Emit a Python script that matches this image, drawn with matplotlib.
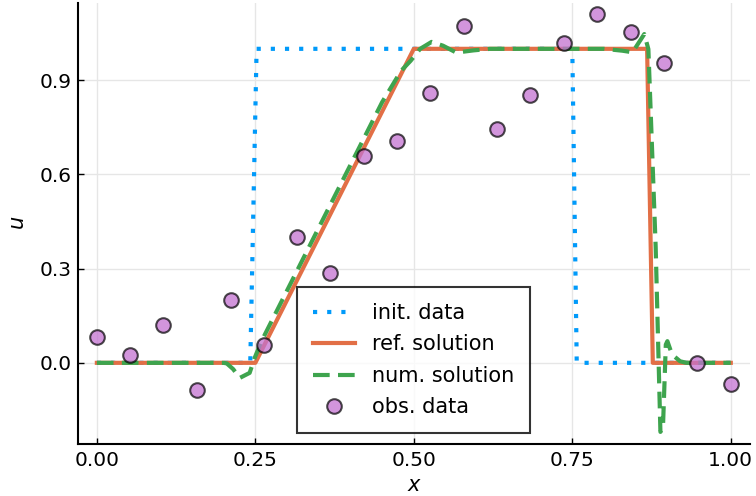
import numpy as np
import matplotlib.pyplot as plt

# initial step (sampled on the grid)
x_init = [0.0, 0.242, 0.252, 0.75, 0.757, 1.0]
u_init = [0.0, 0.0, 1.0, 1.0, 0.0, 0.0]

# reference solution: rarefaction fan + shock
x_ref = [0.0, 0.25, 0.50, 0.868, 0.877, 1.0]
u_ref = [0.0, 0.0, 1.0, 1.0, 0.0, 0.0]

# numerical solution (with oscillations)
x_num = [0.0, 0.20, 0.205, 0.215, 0.2255, 0.241, 0.249, 0.26, 0.30, 0.40, 0.45,
         0.48, 0.495, 0.51, 0.528, 0.546, 0.567, 0.594, 0.62, 0.80, 0.829,
         0.845, 0.8636, 0.870, 0.8815, 0.889, 0.893, 0.8975, 0.900, 0.905,
         0.91, 0.92, 0.93, 1.0]
u_num = [0.0, 0.0, -0.002, -0.02, -0.048, -0.032, 0.016, 0.07, 0.23, 0.63, 0.83,
         0.93, 0.962, 1.0, 1.022, 1.01, 0.988, 0.995, 1.0, 1.0, 0.994,
         0.989, 1.047, 0.999, 0.37, -0.22, -0.207, 0.058, 0.069, 0.04,
         0.022, 0.005, 0.0, 0.0]

# noisy observations
x_obs = [0.0, 0.053, 0.105, 0.158, 0.211, 0.263, 0.316, 0.368, 0.421, 0.474,
         0.526, 0.579, 0.632, 0.684, 0.737, 0.789, 0.842, 0.895, 0.947, 1.0]
u_obs = [0.083, 0.024, 0.122, -0.088, 0.200, 0.057, 0.402, 0.285, 0.658, 0.705,
         0.858, 1.073, 0.745, 0.852, 1.017, 1.111, 1.054, 0.956, -0.001, -0.066]

plt.rcParams['font.family'] = 'DejaVu Sans'
fig = plt.figure(figsize=(7.56, 4.96), dpi=100)
ax = fig.add_axes([0.1038, 0.1054, 0.888, 0.8886])

ax.plot(x_init, u_init, color='#009AFA', lw=3, ls=(0, (1, 2.4)), label='init. data')
ax.plot(x_ref, u_ref, color='#E26F46', lw=3, label='ref. solution')
ax.plot(x_num, u_num, color='#3EA44E', lw=3, ls=(0, (4, 2)), label='num. solution')
ax.plot(x_obs, u_obs, 'o', ms=10.5, mfc=(0.766, 0.448, 0.821, 0.75),
        mec=(0, 0, 0, 0.7), mew=1.5, label='obs. data')

ax.set_xlim(-0.029, 1.03)
ax.set_ylim(-0.2576, 1.146)
ax.set_xticks([0.0, 0.25, 0.5, 0.75, 1.0])
ax.set_xticklabels(['0.00', '0.25', '0.50', '0.75', '1.00'])
ax.set_yticks([0.0, 0.3, 0.6, 0.9])
ax.set_yticklabels(['0.0', '0.3', '0.6', '0.9'])
ax.tick_params(direction='in', length=4, width=1, labelsize=14.5, pad=5)
ax.grid(True, color='#e6e6e6', lw=1)
ax.set_axisbelow(True)
for s in ['top', 'right']:
    ax.spines[s].set_visible(False)
for s in ['left', 'bottom']:
    ax.spines[s].set_linewidth(1.5)

ax.set_xlabel('$x$', fontsize=15, labelpad=4)
ax.set_ylabel('$u$', fontsize=15, labelpad=8)

leg = ax.legend(loc='lower center', bbox_to_anchor=(0.499, 0.024), borderaxespad=0,
                fontsize=15, frameon=True, fancybox=False, handlelength=2.0,
                handletextpad=0.8, labelspacing=0.55, borderpad=0.76)
leg.get_frame().set_edgecolor('black')
leg.get_frame().set_linewidth(1.5)

plt.savefig('out.png', dpi=100)
